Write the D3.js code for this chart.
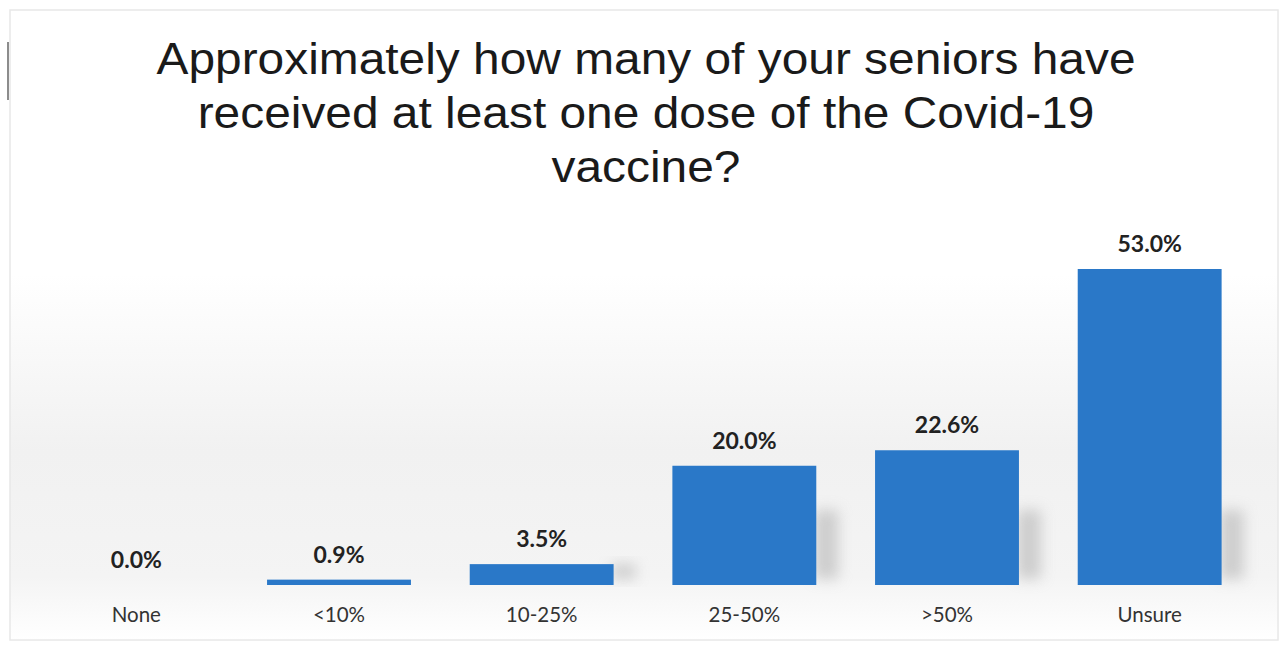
<!DOCTYPE html>
<html><head><meta charset="utf-8">
<script src="https://cdn.jsdelivr.net/npm/d3@7"></script>
<style>html,body{margin:0;padding:0;background:#fff;}svg{display:block;}</style>
</head><body>
<script>
const categories = ["None", "<10%", "10-25%", "25-50%", ">50%", "Unsure"];
const values = [0.0, 0.9, 3.5, 20.0, 22.6, 53.0];
const titleLines = ["Approximately how many of your seniors have", "received at least one dose of the Covid-19", "vaccine?"];

const W = 1282, H = 646;
const svg = d3.select("body").append("svg").attr("width", W).attr("height", H);
const defs = svg.append("defs");
const bg = defs.append("linearGradient").attr("id","bg").attr("x1",0).attr("y1",0).attr("x2",0).attr("y2",1);
bg.append("stop").attr("offset","0%").attr("stop-color","#ffffff");
bg.append("stop").attr("offset","42%").attr("stop-color","#ffffff");
bg.append("stop").attr("offset","70%").attr("stop-color","#f1f1f1");
bg.append("stop").attr("offset","90%").attr("stop-color","#f4f4f4");
bg.append("stop").attr("offset","100%").attr("stop-color","#ffffff");
const sh = defs.append("filter").attr("id","blur").attr("x","-80%").attr("y","-50%").attr("width","260%").attr("height","200%");
sh.append("feGaussianBlur").attr("stdDeviation",7);

svg.append("rect").attr("x",0).attr("y",0).attr("width",W).attr("height",H).attr("fill","#fff");
svg.append("rect").attr("x",10).attr("y",10).attr("width",W-14).attr("height",H-16).attr("fill","url(#bg)")
  .attr("stroke","#e8e8e8").attr("stroke-width",1.5);
svg.append("line").attr("x1",8).attr("x2",8).attr("y1",42).attr("y2",100).attr("stroke","#666").attr("stroke-width",1.5);

const x = d3.scaleBand().domain(categories).range([35, 1251]).paddingInner(0.29).paddingOuter(0.145);
const y = d3.scaleLinear().domain([0, 53]).range([585, 269]);

// shadows
svg.append("g").selectAll("rect").data(values).join("rect")
  .attr("x", (d,i) => x(categories[i]) + x.bandwidth() - 2)
  .attr("y", d => Math.max(y(d), y(0) - 75))
  .attr("width", 24)
  .attr("height", d => y(0) - Math.max(y(d), y(0) - 75) - 6)
  .attr("fill", d => d > 2 ? "#c4c4c4" : "none")
  .attr("opacity", 0.8)
  .attr("filter","url(#blur)");

svg.append("g").selectAll("rect").data(values).join("rect")
  .attr("x", (d,i) => x(categories[i]))
  .attr("y", d => y(d))
  .attr("width", x.bandwidth())
  .attr("height", d => y(0) - y(d))
  .attr("fill", "#2a78c8");

svg.append("g").selectAll("text").data(values).join("text")
  .attr("x", (d,i) => x(categories[i]) + x.bandwidth()/2)
  .attr("y", d => y(d) - 17)
  .attr("text-anchor","middle")
  .attr("font-family","Lato, 'Open Sans', sans-serif")
  .attr("font-weight","bold")
  .attr("font-size", 23)
  .attr("fill","#222")
  .text(d => d.toFixed(1) + "%");

const xAxis = d3.axisBottom(x).tickSize(0).tickPadding(0);
const gx = svg.append("g").attr("transform","translate(0,622)").call(xAxis);
gx.select(".domain").remove();
gx.selectAll("text").attr("dy", 0).attr("font-family","Lato, 'Open Sans', sans-serif").attr("font-size",20.5).attr("fill","#333");

svg.append("g").attr("transform","translate(646,0) scale(1.088,1)")
  .selectAll("text").data(titleLines).join("text")
  .attr("x", 0)
  .attr("y", (d,i) => 74 + i*54)
  .attr("text-anchor","middle")
  .attr("font-family","'Liberation Sans', Arial, sans-serif")
  .attr("font-size", 44)
  .attr("fill","#1a1a1a")
  .text(d => d);
</script>
</body></html>
